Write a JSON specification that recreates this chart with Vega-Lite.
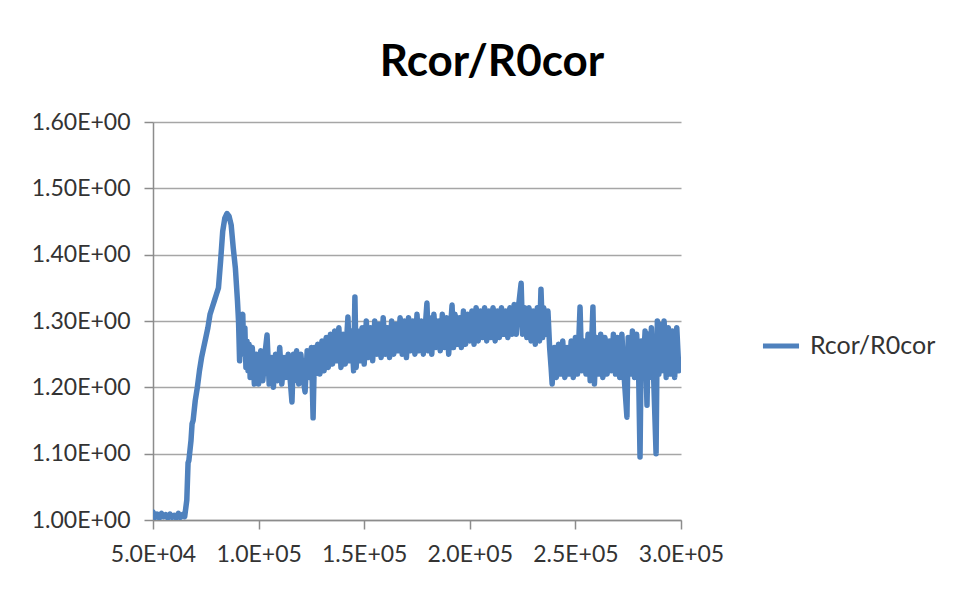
{
  "$schema": "https://vega.github.io/schema/vega-lite/v6.json",
  "width": 528,
  "height": 398,
  "autosize": {"type": "none"},
  "padding": {"left": 153, "top": 122, "right": 289, "bottom": 71},
  "background": "white",
  "title": {"text": "Rcor/R0cor", "font": "Lato", "fontSize": 44, "fontWeight": "bold", "color": "#000000", "anchor": "middle", "dx": 75, "offset": 26},
  "data": {"values": [
    {"x":50000,"y":1.012},{"x":51000,"y":1.004},{"x":52000,"y":1.009},{"x":53000,"y":1.003},{"x":54000,"y":1.010},{"x":55000,"y":1.005},{"x":56000,"y":1.008},{"x":57000,"y":1.003},{"x":58000,"y":1.009},{"x":59000,"y":1.004},{"x":60000,"y":1.007},{"x":61000,"y":1.003},{"x":62000,"y":1.010},{"x":63000,"y":1.004},{"x":64000,"y":1.008},{"x":65000,"y":1.005},
    {"x":66000,"y":1.03},{"x":66600,"y":1.086},{"x":67000,"y":1.09},{"x":68000,"y":1.12},{"x":68500,"y":1.145},{"x":69000,"y":1.15},{"x":70000,"y":1.18},{"x":71000,"y":1.20},{"x":72000,"y":1.225},{"x":73000,"y":1.245},{"x":74000,"y":1.26},{"x":75000,"y":1.275},{"x":76000,"y":1.29},{"x":77000,"y":1.31},{"x":78000,"y":1.32},{"x":79000,"y":1.33},{"x":80000,"y":1.34},{"x":81000,"y":1.35},{"x":82000,"y":1.39},{"x":83000,"y":1.435},{"x":84000,"y":1.455},{"x":85000,"y":1.462},{"x":86000,"y":1.458},{"x":87000,"y":1.445},{"x":88000,"y":1.41},{"x":89000,"y":1.38},{"x":90000,"y":1.33},{"x":90500,"y":1.30},{"x":91000,"y":1.24},{"x":91700,"y":1.30},{"x":92500,"y":1.31},{"x":93000,"y":1.25},{"x":93500,"y":1.29},{"x":94000,"y":1.23},{"x":94500,"y":1.27},{"x":95000,"y":1.225},{"x":95500,"y":1.265},{"x":96000,"y":1.215},{"x":97000,"y":1.26},{"x":98000,"y":1.205},{"x":99000,"y":1.25},
    {"x":100000,"y":1.205},{"x":101000,"y":1.255},{"x":102000,"y":1.21},{"x":103000,"y":1.25},{"x":104000,"y":1.279},{"x":105000,"y":1.205},{"x":106000,"y":1.245},{"x":107000,"y":1.20},{"x":108000,"y":1.25},{"x":109000,"y":1.21},{"x":110000,"y":1.26},{"x":111000,"y":1.205},{"x":112000,"y":1.245},{"x":113000,"y":1.215},{"x":114000,"y":1.25},{"x":115000,"y":1.21},{"x":115800,"y":1.178},{"x":116500,"y":1.25},{"x":117000,"y":1.21},{"x":118000,"y":1.255},{"x":119000,"y":1.205},{"x":120000,"y":1.25},{"x":121000,"y":1.215},{"x":122000,"y":1.193},{"x":123000,"y":1.255},{"x":124000,"y":1.215},{"x":125000,"y":1.26},{"x":125800,"y":1.154},{"x":126500,"y":1.26},{"x":127000,"y":1.22},{"x":128000,"y":1.265},{"x":129000,"y":1.22},{"x":130000,"y":1.27},{"x":131000,"y":1.225},{"x":132000,"y":1.275},{"x":133000,"y":1.23},{"x":134000,"y":1.28},{"x":135000,"y":1.235},{"x":136000,"y":1.285},{"x":137000,"y":1.24},{"x":138000,"y":1.29},{"x":139000,"y":1.23},{"x":140000,"y":1.28},{"x":141000,"y":1.235},{"x":142300,"y":1.306},{"x":143000,"y":1.24},{"x":144000,"y":1.285},{"x":145000,"y":1.225},{"x":145600,"y":1.336},{"x":146200,"y":1.23},{"x":147000,"y":1.285},{"x":148000,"y":1.24},{"x":149000,"y":1.29},
    {"x":150000,"y":1.235},{"x":151000,"y":1.30},{"x":152000,"y":1.245},{"x":153000,"y":1.29},{"x":154000,"y":1.24},{"x":155000,"y":1.30},{"x":156000,"y":1.25},{"x":157000,"y":1.295},{"x":158000,"y":1.245},{"x":159000,"y":1.305},{"x":160000,"y":1.25},{"x":161000,"y":1.29},{"x":162000,"y":1.245},{"x":163000,"y":1.30},{"x":164000,"y":1.25},{"x":165000,"y":1.295},{"x":166000,"y":1.255},{"x":167000,"y":1.305},{"x":168000,"y":1.25},{"x":169000,"y":1.30},{"x":170000,"y":1.245},{"x":171000,"y":1.305},{"x":172000,"y":1.255},{"x":173000,"y":1.30},{"x":174000,"y":1.25},{"x":175000,"y":1.31},{"x":176000,"y":1.255},{"x":177000,"y":1.30},{"x":178000,"y":1.25},{"x":179700,"y":1.327},{"x":180500,"y":1.255},{"x":181000,"y":1.305},{"x":182000,"y":1.25},{"x":183000,"y":1.31},{"x":184000,"y":1.26},{"x":185000,"y":1.30},{"x":186000,"y":1.255},{"x":187000,"y":1.31},{"x":188000,"y":1.26},{"x":189000,"y":1.305},{"x":190000,"y":1.25},{"x":191600,"y":1.324},{"x":192300,"y":1.26},{"x":193000,"y":1.31},{"x":194000,"y":1.265},{"x":195000,"y":1.305},{"x":196000,"y":1.26},{"x":197000,"y":1.315},{"x":198000,"y":1.265},{"x":199000,"y":1.31},
    {"x":200000,"y":1.27},{"x":201000,"y":1.315},{"x":202000,"y":1.265},{"x":203000,"y":1.32},{"x":204000,"y":1.27},{"x":205000,"y":1.315},{"x":206000,"y":1.275},{"x":207000,"y":1.32},{"x":208000,"y":1.27},{"x":209000,"y":1.315},{"x":210000,"y":1.275},{"x":211000,"y":1.32},{"x":212000,"y":1.27},{"x":213000,"y":1.315},{"x":214000,"y":1.275},{"x":215000,"y":1.32},{"x":216000,"y":1.28},{"x":217000,"y":1.315},{"x":218000,"y":1.275},{"x":219000,"y":1.32},{"x":220000,"y":1.28},{"x":221000,"y":1.325},{"x":222000,"y":1.28},{"x":223000,"y":1.32},{"x":224300,"y":1.357},{"x":225000,"y":1.28},{"x":226000,"y":1.32},{"x":227000,"y":1.275},{"x":228000,"y":1.32},{"x":229000,"y":1.27},{"x":230000,"y":1.315},{"x":231000,"y":1.265},{"x":232000,"y":1.32},{"x":233000,"y":1.27},{"x":233700,"y":1.348},{"x":234500,"y":1.275},{"x":235000,"y":1.32},{"x":236000,"y":1.28},{"x":237000,"y":1.315},{"x":237800,"y":1.26},{"x":238500,"y":1.23},{"x":239000,"y":1.205},
    {"x":240000,"y":1.26},{"x":241000,"y":1.215},{"x":242000,"y":1.265},{"x":243000,"y":1.22},{"x":244000,"y":1.27},{"x":245000,"y":1.215},{"x":246000,"y":1.26},{"x":247000,"y":1.22},{"x":248000,"y":1.27},{"x":249000,"y":1.215},{"x":250000,"y":1.275},{"x":251000,"y":1.22},{"x":252200,"y":1.321},{"x":253000,"y":1.225},{"x":254000,"y":1.27},{"x":255000,"y":1.22},{"x":256000,"y":1.28},{"x":257000,"y":1.21},{"x":258300,"y":1.321},{"x":259000,"y":1.205},{"x":260000,"y":1.275},{"x":261000,"y":1.22},{"x":262000,"y":1.28},{"x":263000,"y":1.215},{"x":264000,"y":1.275},{"x":265000,"y":1.22},{"x":266000,"y":1.27},{"x":267000,"y":1.225},{"x":268000,"y":1.28},{"x":269000,"y":1.22},{"x":270000,"y":1.275},{"x":271000,"y":1.215},{"x":272000,"y":1.28},{"x":273000,"y":1.22},{"x":274400,"y":1.155},{"x":275000,"y":1.275},{"x":276000,"y":1.22},{"x":277000,"y":1.285},{"x":278000,"y":1.215},{"x":279000,"y":1.28},{"x":280000,"y":1.21},{"x":280600,"y":1.095},{"x":281200,"y":1.27},{"x":282000,"y":1.22},{"x":283000,"y":1.285},{"x":283900,"y":1.173},{"x":284500,"y":1.28},{"x":285000,"y":1.215},{"x":286000,"y":1.29},{"x":287000,"y":1.22},{"x":288200,"y":1.10},{"x":288800,"y":1.30},{"x":289500,"y":1.22},{"x":290000,"y":1.295},{"x":291000,"y":1.225},{"x":292000,"y":1.30},{"x":293000,"y":1.215},{"x":294000,"y":1.29},{"x":295000,"y":1.22},{"x":296000,"y":1.285},{"x":297000,"y":1.215},{"x":298000,"y":1.29},{"x":299000,"y":1.225},{"x":300000,"y":1.24}
  ]},
  "mark": {"type": "line", "strokeWidth": 5.5, "strokeJoin": "round", "strokeCap": "round", "clip": true},
  "encoding": {
    "x": {"field": "x", "type": "quantitative", "title": null,
      "scale": {"domain": [50000, 300000], "nice": false, "zero": false},
      "axis": {"values": [50000, 100000, 150000, 200000, 250000, 300000],
        "labelExpr": "datum.value < 100000 ? format(datum.value/10000,'.1f') + 'E+04' : format(datum.value/100000,'.1f') + 'E+05'",
        "grid": false, "tickSize": 9, "labelPadding": 14, "labelOverlap": false, "labelFlush": false}},
    "y": {"field": "y", "type": "quantitative", "title": null,
      "scale": {"domain": [1.0, 1.6], "nice": false, "zero": false},
      "axis": {"values": [1.0, 1.1, 1.2, 1.3, 1.4, 1.5, 1.6],
        "labelExpr": "format(datum.value,'.2f') + 'E+00'",
        "grid": true, "tickSize": 9, "labelPadding": 14, "labelOverlap": false}},
    "color": {"datum": "Rcor/R0cor", "type": "nominal", "scale": {"range": ["#4F81BD"]},
      "legend": {"title": null, "orient": "none", "legendX": 607, "legendY": 203, "symbolType": "stroke", "symbolSize": 1300, "symbolStrokeWidth": 5, "labelFont": "Lato", "labelFontSize": 25, "labelColor": "#333333", "labelOffset": 8}}
  },
  "config": {
    "view": {"stroke": null},
    "axis": {"domainColor": "#8c8c8c", "domainWidth": 1.5, "tickColor": "#8c8c8c", "tickWidth": 1.5, "gridColor": "#a6a6a6", "gridWidth": 1.5, "labelFont": "Lato", "labelFontSize": 23, "labelColor": "#333333"}
  }
}
